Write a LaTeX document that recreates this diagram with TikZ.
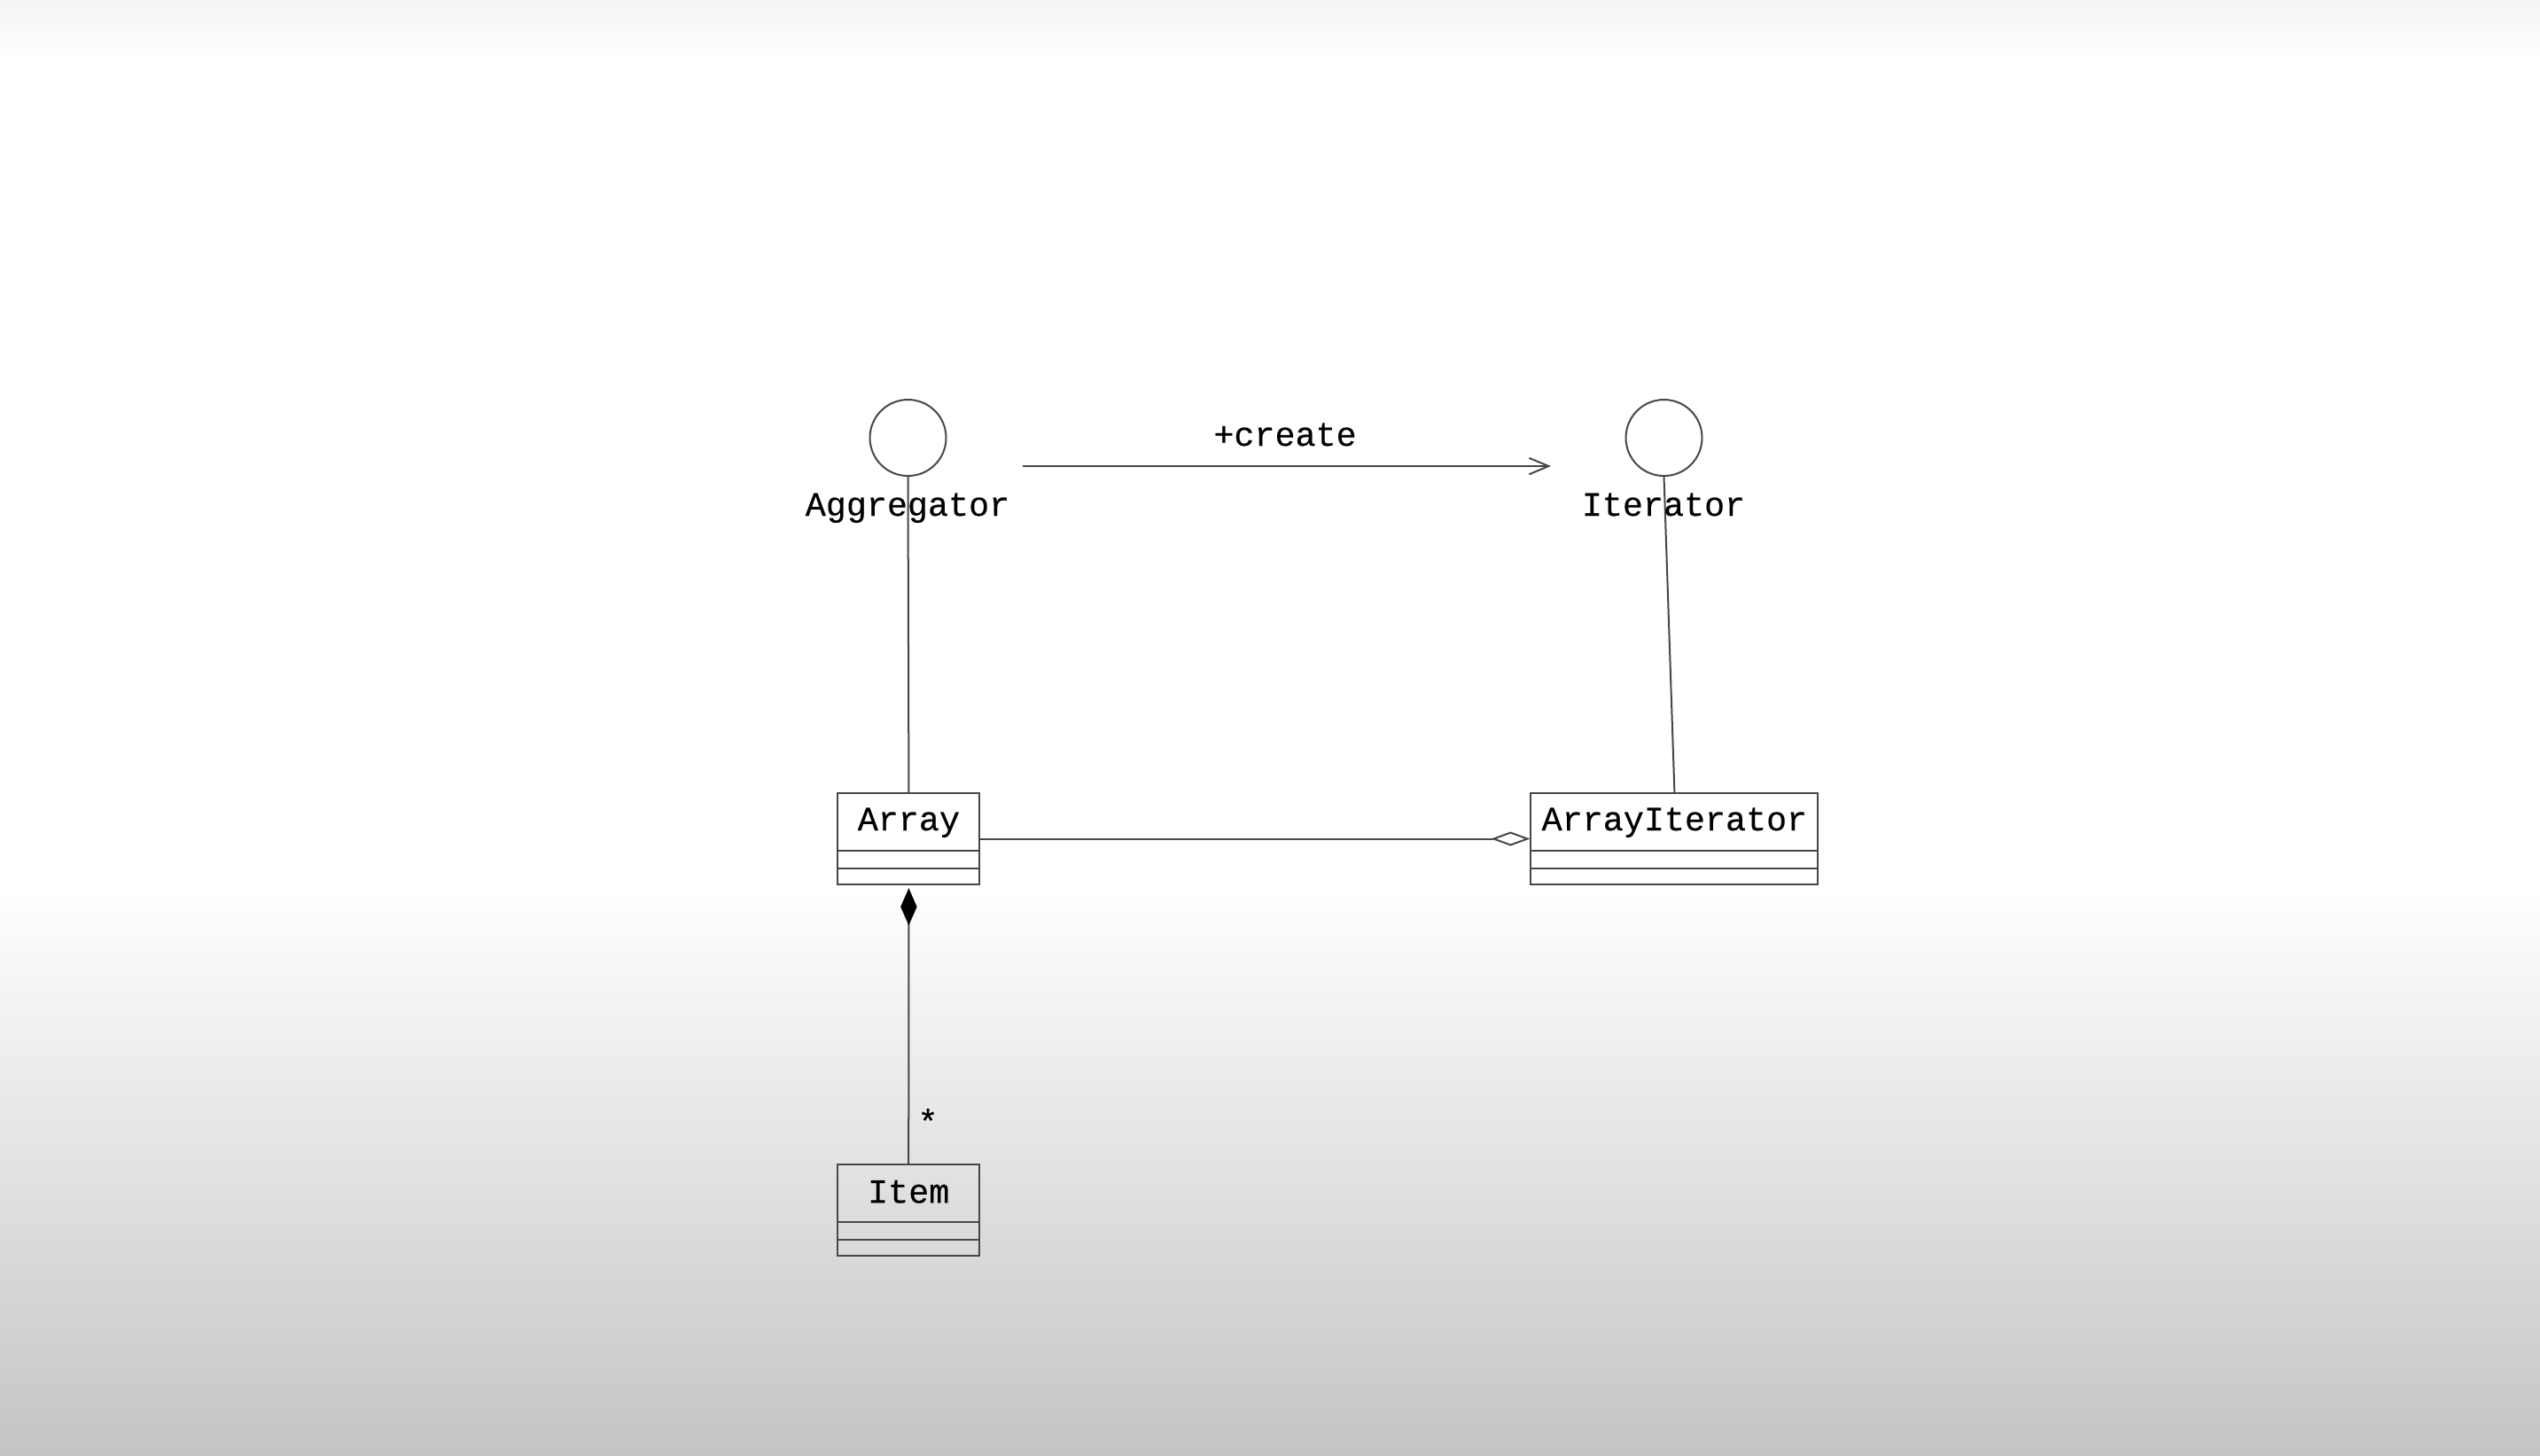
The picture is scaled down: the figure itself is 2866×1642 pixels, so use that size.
\documentclass[tikz,border=0pt]{standalone}
\usepackage{fontspec}
\setmonofont[FakeBold=0.4]{Liberation Mono}
\usetikzlibrary{arrows.meta,calc}
\begin{document}
\begin{tikzpicture}[x=0.25pt,y=-0.25pt,
  ln/.style={draw=black!72,line width=0.5pt},
  lbl/.style={font=\fontsize{9.6pt}{11pt}\selectfont\ttfamily,inner sep=0pt,text=black},
  iface/.style={ln,circle,fill=white,inner sep=0pt,minimum size=21.5pt},
  classbox/.style={ln,rectangle,inner sep=0pt,minimum height=25.75pt},
  comp/.style={ln},
]
\useasboundingbox (0,0) rectangle (2866,1642);
% background
\fill[white] (0,0) rectangle (2866,1642);
\shade[top color=black!4,bottom color=white] (0,0) rectangle (2866,70);
\shade[top color=white,bottom color=black!23] (0,1000) rectangle (2866,1642);

% interfaces
\node[iface] (aggc) at (1024.5,494) {};
\node[iface] (itc) at (1877.5,494) {};

% classes
\node[classbox,minimum width=40pt,anchor=north west] (array) at (944.4,894) {};
\node[classbox,minimum width=81pt,anchor=north west] (arrit) at (1726.4,894) {};
\node[classbox,minimum width=40pt,anchor=north west] (item) at (944.2,1313.3) {};

\foreach \b in {array,arrit,item}{
  \draw[comp] ($(\b.north west)+(0,65.5)$) -- ($(\b.north east)+(0,65.5)$);
  \draw[comp] ($(\b.north west)+(0,85.5)$) -- ($(\b.north east)+(0,85.5)$);
}

% connectors
\draw[ln] (aggc.south) -- (array.north);
\draw[ln] (itc.south) -- (arrit.north);
\draw[ln,-{Diamond[open,fill=white,length=11pt,width=4pt]}] (array.east) -- (arrit.west);
\draw[ln,{Diamond[length=10.5pt,width=4.6pt,fill=black,color=black]}-,shorten <=0.8pt] (array.south) -- (item.north);
\coordinate (cs) at (1154,526);
\coordinate (ce) at (1750,526);
\draw[ln,-{Straight Barb[length=5.5pt,width=4.6pt]}] (cs) -- (ce);

% labels
\node[lbl,anchor=base] (aggl) at (1024,582) {Aggregator};
\node[lbl,anchor=base] (itl) at (1877,582) {Iterator};
\node[lbl,anchor=base] (crl) at (1450,503) {+create};
\node[lbl,anchor=base] (arrayl) at ($(array.north)+(0,43)$) {Array};
\node[lbl,anchor=base] (arritl) at ($(arrit.north)+(0,43)$) {ArrayIterator};
\node[lbl,anchor=base] (iteml) at ($(item.north)+(0,44)$) {Item};
\node[lbl] (mult) at (1047,1265) {*};
\end{tikzpicture}
\end{document}
